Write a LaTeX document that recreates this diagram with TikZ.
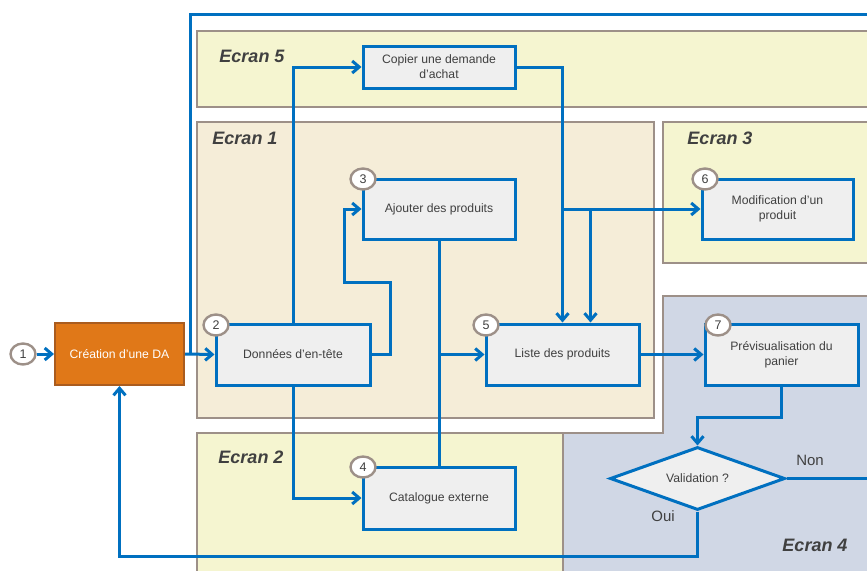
\documentclass[tikz,border=0pt]{standalone}
\usepackage{fontspec}
\setmainfont{Liberation Sans}
\usetikzlibrary{arrows.meta,shapes.geometric,calc}
\definecolor{lblue}{RGB}{0,112,192}
\definecolor{pborder}{RGB}{157,144,136}
\definecolor{pyellow}{RGB}{245,245,208}
\definecolor{pbeige}{RGB}{245,237,216}
\definecolor{pgray}{RGB}{208,215,229}
\definecolor{boxfill}{RGB}{239,239,239}
\definecolor{orangefill}{RGB}{224,120,24}
\definecolor{orangeborder}{RGB}{170,92,30}
\definecolor{txt}{RGB}{64,64,64}
\tikzset{
  panel/.style={draw=pborder, line width=2.4pt},
  ecran/.style={font=\fontsize{18}{21}\selectfont\bfseries\itshape, text=txt, inner sep=0pt},
  stepbox/.style={draw=lblue, line width=3pt, fill=boxfill, rectangle, text=txt,
    font=\fontsize{12.2}{15}\selectfont, align=center, inner sep=2pt},
  numcirc/.style={ellipse, draw=pborder, line width=2.4pt, fill=white, minimum width=25pt,
    minimum height=21pt, inner sep=0pt, text=txt, font=\fontsize{12.5}{14}\selectfont},
  arr/.style={draw=lblue, line width=3pt, -{Straight Barb[length=7pt,width=12pt,line width=3pt]}},
  ln/.style={draw=lblue, line width=3pt},
  lab/.style={text=txt, font=\fontsize{15}{17}\selectfont, inner sep=0pt}
}
\begin{document}
\begin{tikzpicture}[x=1pt,y=-1pt]
\useasboundingbox (0,0) rectangle (867,570);
\clip (0,0) rectangle (867,570);
% panels
\fill[pyellow] (197,31) rectangle (880,107);
\draw[panel] (880,31) -- (197,31) -- (197,107) -- (880,107);
\draw[panel, fill=pbeige] (197,122) rectangle (654,418);
\fill[pyellow] (663,122) rectangle (880,263);
\draw[panel] (880,122) -- (663,122) -- (663,263) -- (880,263);
\fill[pyellow] (197,433) rectangle (563,580);
\draw[panel] (197,580) -- (197,433) -- (563,433);
\fill[pgray] (663,296) -- (880,296) -- (880,580) -- (563,580) -- (563,433) -- (663,433) -- cycle;
\draw[panel] (880,296) -- (663,296) -- (663,433) -- (563,433) -- (563,580);
\node[ecran] (e5) at (252,56) {Ecran 5};
\node[ecran] (e1) at (245,138) {Ecran 1};
\node[ecran] (e3) at (720,138) {Ecran 3};
\node[ecran] (e2) at (251,457) {Ecran 2};
\node[ecran] (e4) at (815,545) {Ecran 4};
% nodes
\node[rectangle, draw=orangeborder, line width=2pt, fill=orangefill, text=white,
  font=\fontsize{12.2}{15}\selectfont, minimum width=129pt, minimum height=62pt] (crea) at (119.5,354) {Création d'une DA};
\node[stepbox, minimum width=154pt, minimum height=61pt] (don) at (293,354.5) {Données d'en-tête};
\node[stepbox, minimum width=152pt, minimum height=60pt] (ajo) at (439,209) {Ajouter des produits};
\node[stepbox, minimum width=152pt, minimum height=42pt] (cop) at (439,67) {Copier une demande\\d'achat};
\node[stepbox, minimum width=152pt, minimum height=62pt] (cat) at (439,498) {Catalogue externe};
\node[stepbox, minimum width=153pt, minimum height=61pt] (lis) at (562.5,354.5) {Liste des produits};
\node[stepbox, minimum width=151pt, minimum height=60pt] (mod) at (777.5,209) {Modification d'un\\produit};
\node[stepbox, minimum width=153pt, minimum height=61pt] (pre) at (781.5,354.5) {Prévisualisation du\\panier};
\node[diamond, draw=lblue, line width=3pt, fill=boxfill, text=txt, font=\fontsize{12.2}{15}\selectfont,
  aspect=2.78, inner sep=0pt, minimum width=175pt, minimum height=63pt] (val) at (697.5,478.5) {Validation ?};
% connectors
\coordinate (jtop) at (190,354);
\draw[ln] (jtop) -- (190,14) -- (880,14);
\draw[arr] (crea.east) -- (don.west);
\draw[arr] (don.north) |- (cop.west);
\draw[arr] (don.east) -- ++(19,0) -- ++(0,-72) -- ++(-46,0) |- (ajo.west);
\draw[arr] (don.south) |- (cat.west);
\draw[ln] (cat.north) -- (ajo.south);
\coordinate (jcat) at (ajo.south |- lis.west);
\draw[arr] (jcat) -- (lis.west);
\draw[arr] (cop.east) -| (lis.north);
\coordinate (jmod) at (lis.north |- mod.west);
\draw[arr] (jmod) -- (mod.west);
\coordinate (jmod2) at ($(jmod)+(28,0)$);
\draw[arr] (jmod2) -- ($(lis.north)+(28,0)$);
\draw[arr] (lis.east) -- (pre.west);
\draw[arr] (pre.south) -- ++(0,31) -| (val.north);
\coordinate (nonend) at (880,478.5);
\draw[ln] (val.east) -- (nonend);
\draw[arr] (val.south) -- ++(0,45) -| (crea.south);
\node[lab] (non) at (810,460) {Non};
\node[lab] (oui) at (663,516) {Oui};
% number circles
\node[numcirc] (c1) at (23,354) {1};
\draw[arr] (c1.east) -- (crea.west);
\node[numcirc] (c2) at (216,325) {2};
\node[numcirc] (c3) at (363,179) {3};
\node[numcirc] (c4) at (363,467) {4};
\node[numcirc] (c5) at (486,325) {5};
\node[numcirc] (c6) at (705,179) {6};
\node[numcirc] (c7) at (718,325) {7};
\end{tikzpicture}
\end{document}
